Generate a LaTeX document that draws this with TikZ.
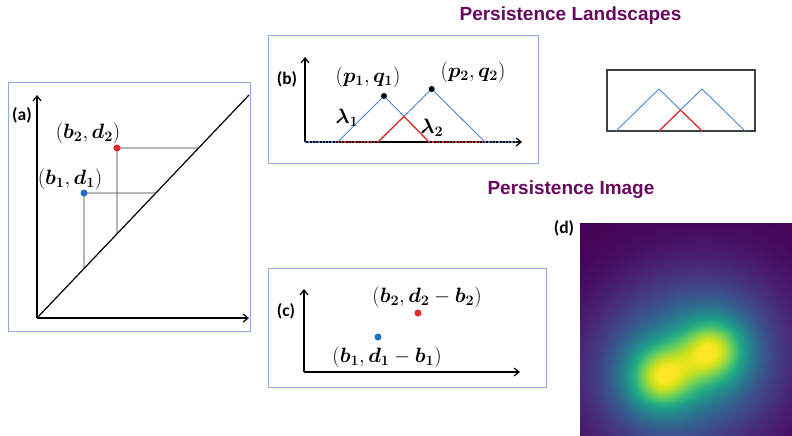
\documentclass[tikz,border=0pt]{standalone}
\usepackage{fontspec}
\setsansfont{Carlito}
\newfontfamily\titlefont{Liberation Sans}
\usepackage{bm}
\usepackage{pgfplots}
\pgfplotsset{compat=1.18}
\usetikzlibrary{arrows.meta,calc}
\definecolor{boxblue}{HTML}{8EAADB}
\definecolor{ptblue}{HTML}{1F6FC0}
\definecolor{ptred}{HTML}{E8242C}
\definecolor{lsblue}{HTML}{4A86CF}
\definecolor{lsred}{HTML}{E8302F}
\definecolor{titlepurple}{HTML}{660A5E}
\tikzset{
  panel/.style={draw=boxblue, line width=0.8pt},
  axisline/.style={line width=1.2pt, -{Straight Barb[length=5pt,width=8pt]}},
  dot/.style={circle, inner sep=0pt, minimum size=7pt},
  pk/.style={circle, inner sep=0pt, minimum size=6pt, fill=black},
  lbl/.style={font=\sffamily\bfseries\fontsize{17.5}{20}\selectfont, inner sep=0pt},
  mlbl/.style={font=\fontsize{20.74}{24}\selectfont, inner sep=0pt},
  guide/.style={line width=0.6pt, draw=black!80},
  lsb/.style={draw=lsblue, line width=0.9pt},
  lsr/.style={draw=lsred, line width=1.3pt},
  ttl/.style={font=\titlefont\bfseries\fontsize{19}{22}\selectfont, text=titlepurple, inner sep=0pt},
}
\begin{document}
\begin{tikzpicture}
\begin{scope}[x=1pt,y=-1pt]
\useasboundingbox (0,0) rectangle (792,436);
\end{scope}
% persistence image (d)
\begin{axis}[at={(580pt,-223pt)}, anchor=north west, width=212pt, height=213pt,
  scale only axis, hide axis, enlargelimits=false,
  xmin=580, xmax=792, ymin=223, ymax=436, y dir=reverse, view={0}{90},
  colormap/viridis, point meta min=0, point meta max=1.8]
\addplot3[surf, shader=interp, samples=55, domain=580:792, y domain=223:436]
  {exp(-((x-660)^2+(y-377)^2)/(2*23^2)) + 0.5*exp(-((x-660)^2+(y-377)^2)/(2*56^2))
 + exp(-((x-713)^2+(y-350)^2)/(2*23^2)) + 0.5*exp(-((x-713)^2+(y-350)^2)/(2*56^2))};
\end{axis}
\begin{scope}[x=1pt,y=-1pt]
% titles
\node[ttl] (t1) at (570.5,16) {Persistence Landscapes};
\node[ttl] (t2) at (571,190) {Persistence Image};

% ---------- panel (a)
\draw[panel] (8,82) rectangle (250,331);
\coordinate (aO) at (37,318);
\coordinate (aY) at (37,95);
\coordinate (aX) at (249,318);
\coordinate (aD) at (249,95);
\draw[axisline] (aO) -- (aY);
\draw[axisline] (aO) -- (aX);
\draw[line width=1.2pt] (aO) -- (aD);
\coordinate (p1c) at (84,193);
\coordinate (p2c) at (117,148);
\coordinate (p1h) at ($(aO)!0.5605!(aD)$);
\coordinate (p1v) at ($(aO)!0.2217!(aD)$);
\coordinate (p2h) at ($(aO)!0.7623!(aD)$);
\coordinate (p2v) at ($(aO)!0.3774!(aD)$);
\draw[guide] (p1c) -- (p1h);
\draw[guide] (p1c) -- (p1v);
\draw[guide] (p2c) -- (p2h);
\draw[guide] (p2c) -- (p2v);
\node[dot, fill=ptblue] (p1) at (p1c) {};
\node[dot, fill=ptred] (p2) at (p2c) {};
\node[mlbl] (l2) at (88,133) {$(\bm{b_2},\bm{d_2})$};
\node[mlbl] (l1) at (70,179) {$(\bm{b_1},\bm{d_1})$};
\node[lbl] (la) at (22,115) {(a)};

% ---------- panel (b)
\draw[panel] (268,35) rectangle (538,163);
\coordinate (bO) at (305,142);
\coordinate (bY) at (305,57);
\coordinate (bX) at (522,142);
\draw[axisline] (bO) -- (bY);
\draw[axisline] (bO) -- (bX);
\coordinate (q1a) at (337.7,142);
\coordinate (q1t) at (384,96);
\coordinate (q1b) at (429,142);
\coordinate (q2a) at (378,142);
\coordinate (q2t) at (431.7,89);
\coordinate (q2b) at (485,142);
\coordinate (qx) at (404,116.4);
\coordinate (bE) at (517,142);
\draw[draw=lsblue, line width=1.3pt, dotted] (bO) -- (q1a);
\draw[draw=lsred, line width=1.3pt, dotted] (q1a) -- (q2a);
\draw[draw=lsred, line width=1.3pt, dotted] (q1b) -- (q2b);
\draw[draw=lsblue, line width=1.3pt, dotted] (q2b) -- (bE);
\draw[lsb] (q1a) -- (q1t) -- (q1b);
\draw[lsb] (q2a) -- (q2t) -- (q2b);
\draw[lsr] (q2a) -- (qx) -- (q1b);
\node[pk] (k1) at (q1t) {};
\node[pk] (k2) at (q2t) {};
\node[mlbl] (lp1) at (368,77) {$(\bm{p_1},\bm{q_1})$};
\node[mlbl] (lp2) at (473,72) {$(\bm{p_2},\bm{q_2})$};
\node[mlbl] (lam1) at (347,118) {$\bm{\lambda_1}$};
\node[mlbl] (lam2) at (432,128) {$\bm{\lambda_2}$};
\node[lbl] (lb) at (287,79) {(b)};

% ---------- small landscape box
\draw[line width=1.3pt, draw=black!75] (607,70) rectangle (755,131);
\coordinate (s1a) at (616,131);
\coordinate (s1t) at (659,89);
\coordinate (s1b) at (702,131);
\coordinate (s2a) at (659,131);
\coordinate (s2t) at (702,89);
\coordinate (s2b) at (745,131);
\coordinate (sx) at (680.5,110);
\draw[lsb] (s1a) -- (s1t) -- (s1b);
\draw[lsb] (s2a) -- (s2t) -- (s2b);
\draw[lsr] (s2a) -- (sx) -- (s1b);

% ---------- panel (c)
\draw[panel] (268,268) rectangle (546,387);
\coordinate (cO) at (304,372);
\coordinate (cY) at (304,289);
\coordinate (cX) at (520,372);
\draw[axisline] (cO) -- (cY);
\draw[axisline] (cO) -- (cX);
\node[dot, fill=ptred] (c2) at (418,313) {};
\node[dot, fill=ptblue] (c1) at (378,337) {};
\node[mlbl] (lc2) at (427,297) {$(\bm{b_2},\bm{d_2}-\bm{b_2})$};
\node[mlbl] (lc1) at (387,357) {$(\bm{b_1},\bm{d_1}-\bm{b_1})$};
\node[lbl] (lc) at (286,311) {(c)};

% ---------- panel (d)
\node[lbl] (ld) at (564,228) {(d)};
\end{scope}
\end{tikzpicture}
\end{document}
